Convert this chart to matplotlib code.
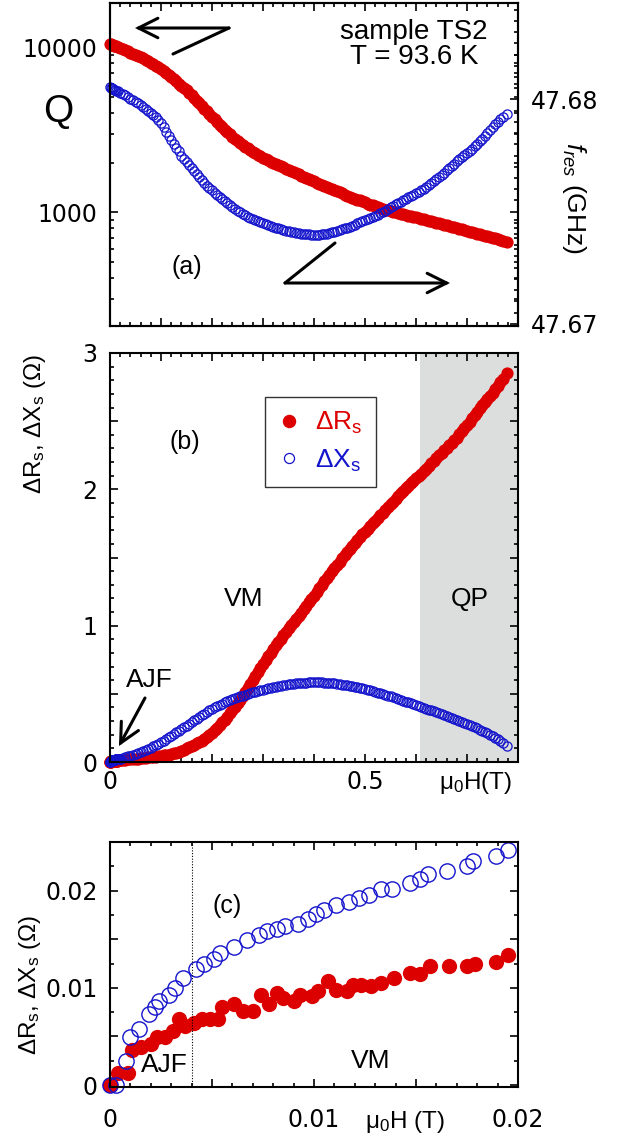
import matplotlib
matplotlib.use("Agg")
import numpy as np
import matplotlib.pyplot as plt
from matplotlib.patches import FancyArrowPatch
from matplotlib.ticker import MultipleLocator, FixedLocator, FixedFormatter, NullFormatter, LogLocator

plt.rcParams["font.family"] = ["Liberation Sans", "DejaVu Sans"]
plt.rcParams["mathtext.fontset"] = "custom"
plt.rcParams["mathtext.rm"] = "Liberation Sans"
plt.rcParams["mathtext.it"] = "Liberation Sans:italic"
plt.rcParams["mathtext.bf"] = "Liberation Sans:bold"

RED = "#dd0000"
BLUE = "#1414cc"
GREY = "#dcdedd"

# ---- panel (a): Q and f_res vs field (T) ----
H_a = [0, 0.002, 0.004, 0.006, 0.008, 0.01, 0.012, 0.015, 0.02, 0.025, 0.03,
       0.04, 0.05, 0.06, 0.07, 0.08, 0.09, 0.10, 0.11, 0.12, 0.13,
       0.14, 0.15, 0.16, 0.17, 0.18, 0.19, 0.20, 0.21, 0.22, 0.23,
       0.24, 0.25, 0.26, 0.27, 0.28, 0.29, 0.30, 0.31, 0.32, 0.33,
       0.34, 0.35, 0.36, 0.37, 0.38, 0.39, 0.40, 0.41, 0.42, 0.43,
       0.44, 0.45, 0.46, 0.47, 0.48, 0.49, 0.50, 0.51, 0.52, 0.53,
       0.54, 0.55, 0.56, 0.57, 0.58, 0.59, 0.60, 0.61, 0.62, 0.63,
       0.64, 0.65, 0.66, 0.67, 0.68, 0.69, 0.70, 0.71, 0.72, 0.73,
       0.74, 0.75, 0.76, 0.77, 0.778]
Q_a = [10470, 10400, 10340, 10280, 10220, 10160, 10100, 10000, 9840, 9700, 9550,
       9270, 8970, 8710, 8380, 8050, 7740, 7380, 7000, 6610, 6210,
       5830, 5500, 5110, 4740, 4410, 4090, 3800, 3530, 3280, 3060,
       2870, 2690, 2560, 2440, 2330, 2230, 2140, 2070, 2000, 1930,
       1870, 1810, 1750, 1700, 1640, 1590, 1540, 1490, 1450, 1400,
       1360, 1320, 1280, 1240, 1210, 1180, 1150, 1110, 1090, 1060,
       1040, 1020, 998, 980, 964, 946, 931, 916, 900, 883,
       867, 851, 836, 818, 804, 787, 771, 757, 743, 729,
       716, 701, 689, 675, 664]
fres_a = [47.68054, 47.68052, 47.68049, 47.68047, 47.68044, 47.68042, 47.68039,
          47.68036, 47.68029, 47.68024, 47.68018,
          47.68004, 47.67989, 47.67974, 47.67958, 47.67941, 47.67921, 47.67895, 47.67855, 47.67820, 47.67785,
          47.67750, 47.67721, 47.67693, 47.67667, 47.67640, 47.67616, 47.67596, 47.67575, 47.67555, 47.67537,
          47.67520, 47.67504, 47.67490, 47.67478, 47.67467, 47.67457, 47.67447, 47.67439, 47.67432, 47.67425,
          47.67418, 47.67412, 47.67407, 47.67404, 47.67400, 47.67398, 47.67397, 47.67397, 47.67400, 47.67405,
          47.67411, 47.67418, 47.67425, 47.67433, 47.67442, 47.67452, 47.67461, 47.67471, 47.67482, 47.67493,
          47.67504, 47.67519, 47.67533, 47.67545, 47.67557, 47.67569, 47.67581, 47.67595, 47.67610, 47.67627,
          47.67645, 47.67664, 47.67684, 47.67704, 47.67724, 47.67743, 47.67761, 47.67781, 47.67803, 47.67825,
          47.67851, 47.67877, 47.67901, 47.67923, 47.67937]

# readings taken between the points above (x.xx5 T)
H_a_mid = [0.035, 0.045, 0.055, 0.065, 0.075, 0.085, 0.095, 0.105, 0.115, 0.125,
           0.135, 0.145, 0.155, 0.165, 0.175, 0.185, 0.195, 0.205, 0.215, 0.225,
           0.235, 0.245, 0.255, 0.265, 0.275, 0.285, 0.295, 0.305, 0.315, 0.325,
           0.335, 0.345, 0.355, 0.365, 0.375, 0.385, 0.395, 0.405, 0.415, 0.425,
           0.435, 0.445, 0.455, 0.465, 0.475, 0.485, 0.495, 0.505, 0.515, 0.525,
           0.535, 0.545, 0.555, 0.565, 0.575, 0.585, 0.595, 0.605, 0.615, 0.625,
           0.635, 0.645, 0.655, 0.665, 0.675, 0.685, 0.695, 0.705, 0.715, 0.725,
           0.735, 0.745, 0.755, 0.765]
Q_a_mid = [9410, 9120, 8840, 8540, 8210, 7890, 7560, 7190, 6800, 6410,
           6020, 5660, 5300, 4920, 4570, 4250, 3940, 3660, 3400, 3170,
           2960, 2780, 2620, 2500, 2380, 2280, 2180, 2100, 2030, 1960,
           1900, 1840, 1780, 1720, 1670, 1615, 1565, 1515, 1470, 1425,
           1380, 1340, 1300, 1260, 1225, 1195, 1165, 1130, 1100, 1075,
           1050, 1030, 1009, 989, 972, 955, 938, 923, 908, 891,
           875, 859, 843, 827, 811, 795, 779, 764, 750, 736,
           722, 708, 695, 682]
fres_a_mid = [47.68011, 47.67997, 47.67982, 47.67966, 47.67950, 47.67931, 47.67909, 47.67876, 47.67838, 47.67803,
              47.67768, 47.67735, 47.67707, 47.67680, 47.67653, 47.67628, 47.67606, 47.67585, 47.67565, 47.67546,
              47.67528, 47.67512, 47.67497, 47.67484, 47.67472, 47.67462, 47.67452, 47.67443, 47.67435, 47.67428,
              47.67421, 47.67415, 47.67409, 47.67405, 47.67402, 47.67399, 47.67397, 47.67396, 47.67398, 47.67402,
              47.67408, 47.67414, 47.67421, 47.67429, 47.67437, 47.67447, 47.67456, 47.67466, 47.67476, 47.67487,
              47.67498, 47.67511, 47.67526, 47.67539, 47.67551, 47.67563, 47.67575, 47.67588, 47.67602, 47.67618,
              47.67636, 47.67654, 47.67674, 47.67694, 47.67714, 47.67733, 47.67752, 47.67771, 47.67792, 47.67814,
              47.67838, 47.67864, 47.67889, 47.67912]

# ---- panel (c): low-field data (also the start of panel b) ----
Hc_R = [0, 0.0004, 0.0009, 0.0011, 0.0015, 0.002, 0.0023, 0.0027, 0.0031, 0.0034,
        0.0037, 0.0041, 0.0045, 0.0049, 0.0053, 0.0055, 0.0061, 0.0065, 0.007, 0.0074,
        0.0078, 0.0082, 0.0085, 0.009, 0.0093, 0.0099, 0.0102, 0.0107, 0.0111, 0.0116,
        0.0119, 0.0123, 0.0128, 0.0133, 0.0139, 0.0147, 0.0152, 0.0157, 0.0166, 0.0175,
        0.0179, 0.0189, 0.0195]
dRs_c = [0, 0.00125, 0.0012, 0.0036, 0.0039, 0.0042, 0.0049, 0.0049, 0.0056, 0.0068,
         0.0061, 0.0064, 0.0068, 0.0068, 0.0068, 0.008, 0.0083, 0.0076, 0.0076, 0.0093,
         0.0083, 0.0095, 0.009, 0.0086, 0.0093, 0.0092, 0.0097, 0.0107, 0.0098, 0.0097,
         0.0103, 0.0103, 0.0102, 0.0105, 0.011, 0.0115, 0.0114, 0.0122, 0.0122, 0.0122,
         0.0124, 0.0127, 0.0134]
Hc_X = [0, 0.0003, 0.0008, 0.001, 0.0014, 0.0019, 0.0022, 0.0024, 0.0029, 0.0032,
        0.0036, 0.0042, 0.0046, 0.0051, 0.0054, 0.0061, 0.0067, 0.0073, 0.0077, 0.0082,
        0.0086, 0.0092, 0.0097, 0.0101, 0.0105, 0.0111, 0.0117, 0.0122, 0.0127, 0.0133,
        0.0138, 0.0147, 0.0152, 0.0156, 0.0165, 0.0175, 0.0178, 0.0189, 0.0195]
dXs_c = [0, 0, 0.0025, 0.0049, 0.0058, 0.0073, 0.008, 0.0086, 0.0093, 0.01,
         0.011, 0.0119, 0.0125, 0.013, 0.0136, 0.0142, 0.0149, 0.0154, 0.0158, 0.0161,
         0.0164, 0.0166, 0.0171, 0.0176, 0.018, 0.0185, 0.0188, 0.0192, 0.0195, 0.0202,
         0.0202, 0.0208, 0.0212, 0.0217, 0.022, 0.0225, 0.023, 0.0236, 0.0242]

# ---- panel (b): higher field part ----
H_b = [0.02, 0.03, 0.04, 0.05, 0.06, 0.07, 0.08, 0.09, 0.10, 0.11,
       0.12, 0.13, 0.14, 0.15, 0.16, 0.17, 0.18, 0.19, 0.20, 0.21,
       0.22, 0.23, 0.24, 0.25, 0.26, 0.27, 0.28, 0.29, 0.30, 0.31,
       0.32, 0.33, 0.34, 0.35, 0.36, 0.37, 0.38, 0.39, 0.40, 0.41,
       0.42, 0.43, 0.44, 0.45, 0.46, 0.47, 0.48, 0.49, 0.50, 0.51,
       0.52, 0.53, 0.54, 0.55, 0.56, 0.57, 0.58, 0.59, 0.60, 0.61,
       0.62, 0.63, 0.64, 0.65, 0.66, 0.67, 0.68, 0.69, 0.70, 0.71,
       0.72, 0.73, 0.74, 0.75, 0.76, 0.77, 0.778]
dRs_b = [0.014, 0.017, 0.020, 0.023, 0.027, 0.031, 0.036, 0.040, 0.045, 0.051,
         0.058, 0.068, 0.082, 0.100, 0.118, 0.136, 0.155, 0.183, 0.215, 0.250,
         0.290, 0.333, 0.380, 0.430, 0.485, 0.542, 0.600, 0.660, 0.720, 0.775,
         0.830, 0.880, 0.930, 0.980, 1.025, 1.070, 1.120, 1.170, 1.220, 1.275,
         1.325, 1.375, 1.425, 1.470, 1.515, 1.565, 1.610, 1.650, 1.690, 1.730,
         1.770, 1.810, 1.850, 1.890, 1.930, 1.970, 2.010, 2.045, 2.080, 2.115,
         2.150, 2.190, 2.230, 2.270, 2.305, 2.340, 2.380, 2.425, 2.470, 2.520,
         2.570, 2.615, 2.660, 2.710, 2.760, 2.810, 2.850]
dXs_b = [0.025, 0.035, 0.047, 0.060, 0.073, 0.088, 0.105, 0.124, 0.145, 0.168,
         0.192, 0.217, 0.242, 0.267, 0.292, 0.317, 0.342, 0.366, 0.390, 0.410,
         0.428, 0.445, 0.460, 0.474, 0.487, 0.499, 0.510, 0.521, 0.531, 0.540,
         0.549, 0.557, 0.564, 0.570, 0.575, 0.579, 0.582, 0.584, 0.585, 0.585,
         0.583, 0.580, 0.576, 0.571, 0.565, 0.559, 0.552, 0.544, 0.535, 0.525,
         0.515, 0.504, 0.493, 0.481, 0.469, 0.456, 0.443, 0.430, 0.417, 0.404,
         0.391, 0.378, 0.365, 0.352, 0.338, 0.324, 0.310, 0.295, 0.280, 0.264,
         0.247, 0.229, 0.210, 0.189, 0.166, 0.140, 0.115]

# readings between the points above (x.xx5 T)
H_b_mid = [0.025, 0.035, 0.045, 0.055, 0.065, 0.075, 0.085, 0.095, 0.105, 0.115,
           0.125, 0.135, 0.145, 0.155, 0.165, 0.175, 0.185, 0.195, 0.205, 0.215,
           0.225, 0.235, 0.245, 0.255, 0.265, 0.275, 0.285, 0.295, 0.305, 0.315,
           0.325, 0.335, 0.345, 0.355, 0.365, 0.375, 0.385, 0.395, 0.405, 0.415,
           0.425, 0.435, 0.445, 0.455, 0.465, 0.475, 0.485, 0.495, 0.505, 0.515,
           0.525, 0.535, 0.545, 0.555, 0.565, 0.575, 0.585, 0.595, 0.605, 0.615,
           0.625, 0.635, 0.645, 0.655, 0.665, 0.675, 0.685, 0.695, 0.705, 0.715,
           0.725, 0.735, 0.745, 0.755, 0.765]
dRs_b_mid = [0.0155, 0.0185, 0.0215, 0.025, 0.029, 0.0335, 0.038, 0.0425, 0.048, 0.0545,
             0.063, 0.075, 0.091, 0.109, 0.127, 0.145, 0.169, 0.199, 0.232, 0.270,
             0.311, 0.356, 0.405, 0.457, 0.513, 0.571, 0.630, 0.690, 0.748, 0.803,
             0.855, 0.905, 0.955, 1.003, 1.048, 1.095, 1.145, 1.195, 1.248, 1.300,
             1.350, 1.400, 1.448, 1.493, 1.540, 1.588, 1.630, 1.670, 1.710, 1.750,
             1.790, 1.830, 1.870, 1.910, 1.950, 1.990, 2.028, 2.063, 2.098, 2.133,
             2.170, 2.210, 2.250, 2.288, 2.323, 2.360, 2.403, 2.448, 2.495, 2.545,
             2.593, 2.638, 2.685, 2.735, 2.785]
dXs_b_mid = [0.030, 0.041, 0.0535, 0.0665, 0.0805, 0.0965, 0.1145, 0.1345, 0.1565, 0.180,
             0.2045, 0.2295, 0.2545, 0.2795, 0.3045, 0.3295, 0.354, 0.378, 0.400, 0.419,
             0.4365, 0.4525, 0.467, 0.4805, 0.493, 0.5045, 0.5155, 0.526, 0.5355, 0.5445,
             0.553, 0.5605, 0.567, 0.5725, 0.577, 0.5805, 0.583, 0.5845, 0.585, 0.584,
             0.5815, 0.578, 0.5735, 0.568, 0.562, 0.5555, 0.548, 0.5395, 0.530, 0.520,
             0.5095, 0.4985, 0.487, 0.475, 0.4625, 0.4495, 0.4365, 0.4235, 0.4105, 0.3975,
             0.3845, 0.3715, 0.3585, 0.345, 0.331, 0.317, 0.3025, 0.2875, 0.272, 0.2555,
             0.238, 0.2195, 0.1995, 0.1775, 0.153]

QP_start = 0.608  # start of the shaded QP region (T)


def merged(*pairs):
    x = np.concatenate([p[0] for p in pairs])
    y = np.concatenate([p[1] for p in pairs])
    order = np.argsort(x, kind="stable")
    return x[order], y[order]


W, H = 619, 1142
fig = plt.figure(figsize=(W / 100, H / 100), dpi=100)
TICKFONT = "DejaVu Sans"


def box(top, bottom):
    return [110 / W, 1 - bottom / H, 408 / W, (bottom - top) / H]


def fx(x, y):
    return (x / W, 1 - y / H)


def ftext(x, y, s, **kw):
    kw.setdefault("ha", "center")
    kw.setdefault("va", "center")
    fig.text(x / W, 1 - y / H, s, **kw)


def arrow(p0, p1, head=True):
    style = "->,head_length=0.7,head_width=0.35" if head else "-"
    fig.add_artist(FancyArrowPatch(
        fx(*p0), fx(*p1), transform=fig.transFigure, arrowstyle=style,
        mutation_scale=20, lw=2.2, color="black", shrinkA=0, shrinkB=0,
        capstyle="round", joinstyle="miter"))


def style(ax):
    for s in ax.spines.values():
        s.set_linewidth(1.5)
    ax.tick_params(which="both", direction="in", width=1.2, labelsize=17,
                   labelfontfamily=TICKFONT, top=True, right=True)
    ax.tick_params(which="major", length=5.5)
    ax.tick_params(which="minor", length=3)


ax_a = fig.add_axes(box(3, 326))
ax_b = fig.add_axes(box(353, 762))
ax_c = fig.add_axes(box(842, 1087))

# ---------------- panel (a) ----------------
ax_f = ax_a.twinx()
hq, q = merged((H_a, Q_a), (H_a_mid, Q_a_mid))
hf, f = merged((H_a, fres_a), (H_a_mid, fres_a_mid))
ax_a.plot(hq, q, "o", color=RED, ms=8.8, mew=0, clip_on=False, zorder=3)
ax_f.plot(hf, f, "o", color=BLUE, ms=6.6, mfc="none", mew=0.9, clip_on=False)
ax_a.set_yscale("log")
ax_a.set_xlim(0, 0.8)
ax_a.set_ylim(205, 18500)
ax_f.set_ylim(47.6699, 47.6843)
style(ax_a)
ax_a.tick_params(right=False)
ax_f.tick_params(which="both", direction="in", width=1.2, labelsize=17,
                 labelfontfamily=TICKFONT, left=False, right=True, pad=9)
ax_f.tick_params(which="major", length=5.5)
ax_f.tick_params(which="minor", length=3)
ax_a.xaxis.set_major_locator(MultipleLocator(0.1))
ax_a.xaxis.set_minor_locator(MultipleLocator(0.02))
ax_a.xaxis.set_major_formatter(NullFormatter())
ax_a.yaxis.set_major_locator(FixedLocator([1000, 10000]))
ax_a.yaxis.set_major_formatter(FixedFormatter(["1000", "10000"]))
ax_a.yaxis.set_minor_locator(LogLocator(base=10, subs=range(2, 10)))
ax_a.yaxis.set_minor_formatter(NullFormatter())
ax_a.tick_params(axis="y", pad=9)
ax_f.yaxis.set_major_locator(FixedLocator([47.67, 47.675, 47.68]))
ax_f.yaxis.set_major_formatter(FixedFormatter(["47.67", "", "47.68"]))
ax_f.yaxis.set_minor_locator(MultipleLocator(0.0005))
for s in ax_f.spines.values():
    s.set_linewidth(1.5)

ftext(58, 112, "Q", fontsize=28)
ftext(414, 32, "sample TS2", fontsize=20)
ftext(414, 57, "T = 93.6 K", fontsize=20)
ftext(187, 267, "(a)", fontsize=18)
ftext(574, 198, "$f_{res}$ (GHz)", fontsize=19, rotation=270)
arrow((173, 54), (229, 28), head=False)
arrow((229, 28), (135, 28))
arrow((335, 243), (285, 283), head=False)
arrow((285, 283), (450, 283))

# ---------------- panel (b) ----------------
ax_b.axvspan(QP_start, 0.8, color=GREY, lw=0, zorder=0)
hr, r = merged((Hc_R, dRs_c), (H_b, dRs_b), (H_b_mid, dRs_b_mid))
hx, x = merged((Hc_X, dXs_c), (H_b, dXs_b), (H_b_mid, dXs_b_mid))
lr, = ax_b.plot(hr, r, "o", color=RED, ms=8.8, mew=0, clip_on=False)
lx, = ax_b.plot(hx, x, "o", color=BLUE, ms=6.6, mfc="none", mew=0.9, clip_on=False)
ax_b.set_xlim(0, 0.8)
ax_b.set_ylim(0, 3)
style(ax_b)
ax_b.xaxis.set_major_locator(FixedLocator([0, 0.1, 0.2, 0.3, 0.4, 0.5, 0.6, 0.7, 0.8]))
ax_b.xaxis.set_major_formatter(FixedFormatter(["0", "", "", "", "", "0.5", "", "", ""]))
ax_b.xaxis.set_minor_locator(MultipleLocator(0.02))
ax_b.yaxis.set_major_locator(FixedLocator([0, 0.5, 1, 1.5, 2, 2.5, 3]))
ax_b.yaxis.set_major_formatter(FixedFormatter(["0", "", "1", "", "2", "", "3"]))
ax_b.yaxis.set_minor_locator(MultipleLocator(0.1))
ax_b.tick_params(axis="x", pad=6)
ax_b.tick_params(axis="y", pad=9)

leg = ax_b.legend([lr, lx], ["ΔR$_{\\mathrm{s}}$", "ΔX$_{\\mathrm{s}}$"],
                  loc="upper left", bbox_to_anchor=fx(265, 397), bbox_transform=fig.transFigure,
                  borderaxespad=0, fancybox=False, edgecolor="#333333", framealpha=1,
                  fontsize=19, markerscale=1.1, handlelength=0.8, handletextpad=0.6,
                  labelcolor="linecolor", borderpad=0.5, labelspacing=0.42)
leg.get_frame().set_linewidth(1.0)

ftext(35, 424, "ΔR$_{\\mathrm{s}}$, ΔX$_{\\mathrm{s}}$ (Ω)", fontsize=17.5, rotation=90)
ftext(185, 442, "(b)", fontsize=18)
ftext(244, 599, "VM", fontsize=19)
ftext(470, 599, "QP", fontsize=19)
ftext(149, 680, "AJF", fontsize=19)
arrow((145, 698), (119, 746))
ftext(476, 783, "μ$_0$H(T)", fontsize=17.5)

# ---------------- panel (c) ----------------
ax_c.plot(Hc_R, dRs_c, "o", color=RED, ms=11, mew=0, clip_on=False)
ax_c.plot(Hc_X, dXs_c, "o", color=BLUE, ms=11, mfc="none", mew=1.0, clip_on=False)
ax_c.axvline(0.004, color="black", ls=(0, (1, 1.5)), lw=0.8)
ax_c.set_xlim(0, 0.02)
ax_c.set_ylim(-0.0002, 0.025)
style(ax_c)
ax_c.xaxis.set_major_locator(FixedLocator([0, 0.005, 0.01, 0.015, 0.02]))
ax_c.xaxis.set_major_formatter(FixedFormatter(["0", "", "0.01", "", "0.02"]))
ax_c.xaxis.set_minor_locator(MultipleLocator(0.001))
ax_c.yaxis.set_major_locator(FixedLocator([0, 0.005, 0.01, 0.015, 0.02, 0.025]))
ax_c.yaxis.set_major_formatter(FixedFormatter(["0", "", "0.01", "", "0.02", ""]))
ax_c.yaxis.set_minor_locator(MultipleLocator(0.0025))
ax_c.tick_params(axis="x", pad=15)
ax_c.tick_params(axis="y", pad=9)

ftext(30, 985, "ΔR$_{\\mathrm{s}}$, ΔX$_{\\mathrm{s}}$ (Ω)", fontsize=17.5, rotation=90)
ftext(227, 906, "(c)", fontsize=18)
ftext(164, 1065, "AJF", fontsize=19)
ftext(371, 1061, "VM", fontsize=19)
ftext(405, 1122, "μ$_0$H (T)", fontsize=17.5)

fig.savefig("out.png", dpi=100)
